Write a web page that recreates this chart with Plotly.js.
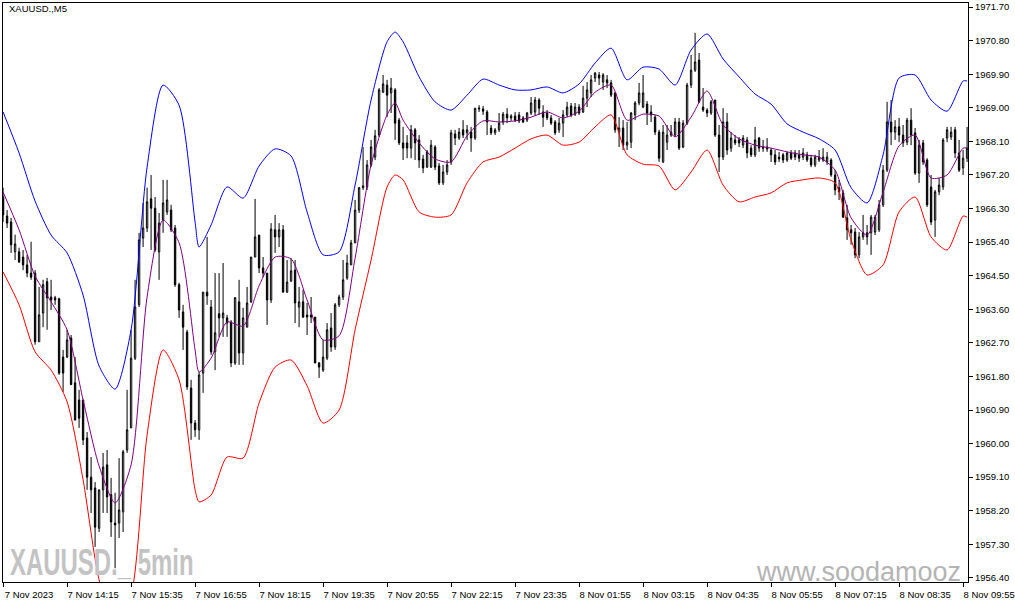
<!DOCTYPE html>
<html>
<head>
<meta charset="utf-8">
<script src="https://cdn.plot.ly/plotly-3.0.1.min.js"></script>
<style>
  html, body { margin: 0; padding: 0; background: #ffffff; }
  #chart { width: 1015px; height: 605px; }
</style>
</head>
<body>
<div id="chart"></div>
<script>
// XAUUSD M5 candles, 7 Nov 12:55 -> 8 Nov 10:00 (one entry per bar)
var open = [
  1966.61,1966.10,1965.94,1965.14,1965.14,1965.00,1964.79,1964.57,1964.57,1962.73,
  1963.50,1964.34,1963.93,1963.91,1963.88,1962.32,1962.32,1962.83,1961.63,1961.17,
  1961.17,1960.15,1959.10,1958.81,1957.73,1958.76,1959.43,1958.63,1957.87,1957.87,
  1958.17,1959.83,1960.42,1962.29,1963.72,1965.51,1965.78,1966.56,1966.31,1965.14,
  1965.99,1966.21,1966.26,1965.78,1964.26,1963.53,1962.99,1961.49,1960.55,1960.37,
  1961.89,1964.06,1963.66,1962.46,1963.48,1963.37,1963.37,1963.26,1962.16,1963.80,
  1962.43,1963.12,1963.80,1965.00,1965.59,1964.71,1964.57,1963.85,1965.73,1965.54,
  1965.73,1964.06,1964.36,1964.65,1963.66,1963.80,1963.45,1963.45,1963.39,1962.16,
  1961.97,1962.29,1963.10,1962.59,1963.72,1963.93,1964.44,1964.79,1965.38,1966.26,
  1966.86,1966.88,1967.47,1967.68,1968.27,1969.42,1969.61,1969.40,1969.48,1968.67,
  1968.06,1968.06,1967.92,1968.41,1968.14,1967.63,1967.41,1967.41,1967.95,1967.44,
  1966.99,1967.28,1967.55,1968.30,1968.19,1968.41,1968.33,1968.35,1968.19,1968.97,
  1968.97,1968.89,1968.46,1968.33,1968.41,1968.62,1968.83,1968.73,1968.78,1968.81,
  1968.73,1968.67,1968.86,1968.89,1969.21,1968.89,1968.86,1968.73,1968.62,1968.41,
  1968.59,1968.81,1969.05,1968.83,1969.02,1968.89,1969.26,1969.40,1969.80,1969.88,
  1969.69,1969.75,1969.67,1969.40,1968.35,1968.46,1968.00,1968.08,1968.81,1969.13,
  1969.02,1969.10,1968.89,1968.75,1968.35,1967.55,1968.08,1968.27,1968.27,1968.62,
  1967.95,1968.59,1969.61,1970.01,1970.28,1969.02,1968.94,1968.86,1969.21,1968.27,
  1967.68,1968.62,1967.92,1968.14,1968.14,1968.00,1968.14,1967.92,1967.74,1968.19,
  1967.95,1967.95,1967.87,1967.74,1967.68,1967.74,1967.60,1967.79,1967.79,1967.74,
  1967.68,1967.74,1967.65,1967.47,1967.60,1967.60,1967.55,1967.60,1967.20,1966.86,
  1966.72,1966.05,1965.73,1965.67,1965.06,1965.54,1965.65,1965.65,1965.67,1965.73,
  1966.40,1967.33,1968.62,1968.35,1968.49,1968.27,1968.08,1968.67,1968.33,1967.25,
  1968.06,1967.60,1966.88,1965.99,1966.75,1966.88,1968.19,1968.22,1968.41,1967.79,
  1967.39,1967.65
];
var high = [
  1966.86,1966.26,1966.05,1965.60,1965.25,1965.19,1965.06,1965.41,1964.65,1964.20,
  1964.39,1964.44,1964.39,1963.96,1963.91,1962.51,1963.05,1962.91,1962.32,1961.44,
  1961.17,1960.31,1959.64,1958.97,1958.76,1959.75,1959.83,1959.08,1958.68,1959.61,
  1959.83,1961.44,1963.05,1964.39,1965.65,1966.45,1966.86,1967.20,1966.61,1966.18,
  1967.07,1967.07,1966.40,1965.86,1964.31,1963.72,1963.05,1961.71,1960.63,1961.92,
  1964.06,1965.54,1963.85,1964.57,1964.57,1964.84,1963.45,1963.31,1963.93,1964.39,
  1963.64,1964.20,1965.00,1966.56,1965.59,1965.00,1964.57,1965.91,1966.13,1965.91,
  1965.86,1964.92,1964.97,1964.92,1964.20,1964.12,1963.77,1963.93,1963.39,1962.19,
  1962.78,1963.23,1963.50,1963.77,1963.99,1964.92,1965.06,1965.46,1966.53,1966.88,
  1967.95,1967.60,1968.14,1968.41,1969.53,1969.88,1969.75,1969.80,1969.53,1968.73,
  1968.49,1968.27,1968.54,1968.46,1968.27,1967.74,1967.87,1968.14,1968.00,1967.52,
  1967.47,1967.60,1968.41,1968.41,1968.46,1968.67,1968.54,1968.49,1968.99,1969.07,
  1969.05,1968.94,1968.54,1968.46,1968.86,1968.89,1968.99,1968.83,1968.89,1968.89,
  1968.78,1968.89,1969.29,1969.29,1969.26,1969.07,1968.94,1968.81,1968.67,1968.73,
  1968.94,1969.16,1969.13,1969.13,1969.10,1969.59,1969.69,1969.88,1969.96,1969.96,
  1969.93,1969.88,1969.75,1969.42,1968.75,1968.67,1968.62,1968.89,1969.18,1969.67,
  1969.88,1969.18,1969.07,1968.81,1968.41,1968.54,1968.54,1968.54,1968.73,1968.73,
  1968.67,1969.67,1970.42,1971.01,1970.47,1969.53,1968.99,1969.21,1969.21,1968.54,
  1968.99,1968.86,1968.35,1968.27,1968.22,1968.27,1968.22,1968.00,1968.49,1968.22,
  1968.14,1968.19,1967.92,1967.87,1967.82,1967.79,1967.82,1967.87,1967.87,1967.87,
  1967.92,1967.82,1967.74,1967.74,1967.87,1967.92,1967.82,1967.65,1967.33,1967.07,
  1966.80,1966.40,1965.86,1965.78,1965.67,1966.13,1965.86,1966.13,1966.13,1966.53,
  1967.47,1969.16,1969.21,1968.67,1968.73,1968.54,1968.73,1968.99,1968.46,1968.14,
  1968.14,1967.65,1967.20,1966.80,1967.12,1968.19,1968.49,1968.49,1968.49,1968.14,
  1967.87,1968.49
];
var low = [
  1965.94,1965.78,1965.11,1964.92,1964.84,1964.65,1964.46,1964.39,1962.65,1962.73,
  1963.12,1963.05,1963.58,1963.72,1961.84,1961.39,1962.29,1961.58,1960.63,1960.42,
  1959.96,1958.76,1958.14,1957.23,1957.63,1958.14,1958.14,1957.50,1956.66,1957.47,
  1957.63,1959.75,1960.42,1962.24,1963.66,1965.27,1965.67,1965.19,1965.14,1964.39,
  1965.65,1966.13,1965.67,1964.20,1963.37,1962.51,1961.44,1960.10,1960.18,1960.10,
  1961.36,1963.72,1962.38,1961.97,1962.86,1962.86,1962.86,1962.05,1962.11,1962.11,
  1962.11,1963.12,1963.77,1965.00,1964.57,1964.46,1963.18,1963.77,1965.11,1965.27,
  1964.06,1964.04,1964.33,1963.23,1963.12,1963.37,1962.91,1963.23,1962.16,1961.76,
  1961.92,1962.24,1962.46,1962.51,1963.66,1963.85,1964.39,1964.79,1965.38,1966.18,
  1966.80,1966.80,1967.41,1967.60,1968.22,1969.40,1968.75,1968.86,1968.14,1968.00,
  1967.60,1967.65,1967.65,1967.60,1967.39,1967.25,1967.39,1967.39,1967.33,1966.93,
  1966.93,1967.20,1967.47,1968.00,1968.14,1968.19,1968.14,1967.82,1968.14,1968.89,
  1968.81,1968.27,1968.27,1968.27,1968.35,1968.54,1968.59,1968.65,1968.62,1968.59,
  1968.59,1968.62,1968.81,1968.78,1968.81,1968.49,1968.67,1968.54,1968.27,1968.33,
  1968.22,1968.75,1968.75,1968.78,1968.81,1968.86,1969.02,1969.29,1969.69,1969.61,
  1969.48,1969.53,1969.29,1968.33,1967.95,1967.87,1967.87,1967.92,1968.67,1969.07,
  1968.99,1968.54,1968.62,1968.27,1967.55,1967.52,1967.87,1968.22,1968.22,1967.87,
  1967.92,1968.54,1969.53,1969.96,1969.13,1968.89,1968.75,1968.81,1968.22,1967.28,
  1967.60,1967.74,1967.82,1968.00,1967.95,1967.92,1967.65,1967.68,1967.68,1967.82,
  1967.82,1967.82,1967.55,1967.47,1967.55,1967.52,1967.55,1967.60,1967.60,1967.55,
  1967.60,1967.55,1967.41,1967.41,1967.55,1967.55,1967.47,1967.15,1966.66,1966.53,
  1966.05,1965.46,1965.33,1964.97,1964.97,1965.46,1965.33,1965.06,1965.59,1965.67,
  1966.34,1967.28,1968.00,1968.14,1968.08,1967.95,1968.00,1968.00,1967.20,1966.99,
  1967.47,1966.34,1965.86,1965.54,1966.66,1966.80,1968.08,1968.14,1967.65,1967.28,
  1967.20,1967.55
];
var close = [
  1966.13,1965.91,1965.33,1965.35,1964.87,1964.79,1964.57,1964.46,1962.73,1963.45,
  1964.26,1963.91,1963.85,1963.85,1961.89,1961.89,1962.78,1961.58,1960.63,1960.68,
  1960.10,1959.10,1958.76,1957.76,1958.76,1959.37,1958.57,1957.90,1957.82,1958.22,
  1959.78,1960.37,1962.29,1963.66,1965.46,1965.78,1966.48,1966.31,1965.19,1965.91,
  1966.45,1966.53,1965.73,1964.26,1963.58,1963.12,1961.52,1960.55,1960.37,1961.84,
  1964.06,1963.96,1962.46,1962.97,1963.37,1963.50,1963.23,1962.16,1963.91,1962.43,
  1963.37,1963.77,1965.00,1965.54,1964.71,1964.57,1963.85,1965.75,1965.54,1965.73,
  1964.06,1964.33,1964.63,1963.77,1963.80,1963.39,1963.39,1963.39,1962.16,1962.05,
  1962.32,1963.05,1962.59,1963.72,1963.93,1964.39,1964.84,1965.38,1966.26,1966.86,
  1966.91,1967.47,1967.95,1968.25,1969.48,1969.64,1969.34,1969.53,1968.59,1968.06,
  1967.92,1967.92,1968.41,1968.06,1967.60,1967.39,1967.82,1968.00,1967.41,1966.99,
  1967.28,1967.47,1968.33,1968.19,1968.35,1968.27,1968.41,1968.19,1968.99,1968.99,
  1968.91,1968.62,1968.33,1968.41,1968.59,1968.83,1968.73,1968.78,1968.67,1968.65,
  1968.62,1968.86,1969.13,1969.21,1968.99,1968.75,1968.73,1968.59,1968.33,1968.59,
  1968.81,1969.02,1968.81,1969.02,1968.86,1969.26,1969.48,1969.75,1969.93,1969.80,
  1969.88,1969.67,1969.34,1968.41,1968.46,1968.00,1968.08,1968.86,1969.13,1969.40,
  1969.40,1968.86,1968.81,1968.35,1967.65,1968.35,1968.27,1968.35,1968.62,1967.92,
  1968.59,1969.61,1970.01,1970.23,1969.16,1968.94,1968.86,1969.16,1968.27,1967.68,
  1968.62,1967.87,1968.19,1968.06,1968.06,1968.19,1967.79,1967.74,1968.14,1967.92,
  1967.92,1967.90,1967.74,1967.55,1967.63,1967.60,1967.79,1967.65,1967.68,1967.65,
  1967.79,1967.60,1967.47,1967.68,1967.68,1967.68,1967.68,1967.20,1966.80,1966.75,
  1966.07,1965.73,1965.65,1965.06,1965.54,1965.65,1965.54,1966.07,1966.07,1966.40,
  1967.33,1968.62,1968.35,1968.49,1968.27,1968.06,1968.67,1968.27,1967.25,1968.00,
  1967.55,1966.40,1965.94,1966.75,1966.93,1968.14,1968.41,1968.35,1967.79,1967.33,
  1967.65,1967.92
];

// Bollinger bands at these bar numbers
var bandIdx = [0,4,8,12,16,20,24,28,32,36,40,44,48,49,52,56,60,64,68,72,76,80,84,88,92,96,98,
  100,104,108,112,116,120,124,128,132,136,140,144,148,152,156,160,164,168,172,176,180,184,188,
  192,196,200,204,208,212,216,220,224,228,232,236,240,241];
var upperBand = [1968.89,1967.79,1966.50,1965.59,1965.11,1963.98,1962.08,1961.46,1963.05,1967.41,
  1969.61,1969.07,1965.94,1965.27,1965.86,1966.88,1966.58,1967.44,1967.90,1967.71,1966.21,1965.06,
  1965.14,1966.93,1969.21,1970.77,1971.03,1970.77,1969.83,1969.16,1968.94,1969.34,1969.77,1969.61,
  1969.48,1969.48,1969.56,1969.40,1969.64,1970.20,1970.60,1969.75,1970.09,1970.04,1969.61,1970.55,
  1970.98,1970.31,1969.83,1969.37,1969.10,1968.57,1968.35,1968.17,1967.87,1966.86,1966.45,1967.74,
  1969.80,1969.88,1969.21,1968.91,1969.72,1969.72];
var midBand = [1966.74,1965.73,1964.49,1963.80,1963.05,1961.17,1959.40,1958.41,1959.43,1963.93,
  1965.99,1965.38,1962.51,1961.92,1962.29,1963.26,1963.15,1964.23,1965.00,1964.95,1963.85,1962.78,
  1962.89,1964.97,1967.47,1968.81,1969.13,1968.67,1968.06,1967.63,1967.55,1968.25,1968.65,1968.62,
  1968.65,1968.75,1968.89,1968.73,1968.91,1969.42,1969.61,1968.67,1968.83,1968.78,1968.22,1968.75,
  1969.45,1968.54,1968.17,1968.00,1967.92,1967.82,1967.74,1967.68,1967.33,1966.05,1965.59,1966.74,
  1967.98,1968.27,1967.12,1967.20,1967.92,1967.92];
var lowerBand = [1964.60,1963.72,1962.46,1961.97,1961.12,1959.03,1956.35,1955.14,1955.94,1960.23,
  1962.51,1961.71,1958.76,1958.44,1958.62,1959.64,1959.61,1961.09,1962.05,1962.24,1961.55,1960.55,
  1960.90,1963.05,1964.92,1966.88,1967.20,1967.07,1966.21,1966.07,1966.13,1966.99,1967.55,1967.68,
  1967.92,1968.17,1968.27,1968.00,1968.08,1968.49,1968.81,1967.74,1967.49,1967.44,1966.80,1967.28,
  1967.87,1966.93,1966.48,1966.61,1966.72,1966.99,1967.07,1967.12,1966.99,1965.46,1964.52,1964.79,
  1966.21,1966.61,1965.54,1965.19,1966.10,1966.07];

// axis labels
var timeTickIdx = [0,16,32,48,64,80,96,112,128,144,160,176,192,208,224,240];
var timeTickText = ['7 Nov 2023','7 Nov 14:15','7 Nov 15:35','7 Nov 16:55','7 Nov 18:15',
  '7 Nov 19:35','7 Nov 20:55','7 Nov 22:15','7 Nov 23:35','8 Nov 01:55','8 Nov 03:15',
  '8 Nov 04:35','8 Nov 05:55','8 Nov 07:15','8 Nov 08:35','8 Nov 09:55'];
var priceTicks = [1956.40,1957.30,1958.20,1959.10,1960.00,1960.90,1961.80,1962.70,1963.60,
  1964.50,1965.40,1966.30,1967.20,1968.10,1969.00,1969.90,1970.80,1971.70];

var barIdx = open.map(function (v, i) { return i; });

var tickFont = { family: 'Liberation Sans, Arial, sans-serif', size: 9.5, color: '#000000' };

var candles = {
    type: 'candlestick',
    x: barIdx,
    open: open,
    high: high,
    low: low,
    close: close,
    whiskerwidth: 0,
    increasing: { line: { color: '#000000', width: 1 }, fillcolor: '#ffffff' },
    decreasing: { line: { color: '#000000', width: 1 }, fillcolor: '#000000' },
    hoverinfo: 'skip'
};

function bandLine(values, color) {
    return {
        type: 'scatter',
        mode: 'lines',
        x: bandIdx,
        y: values,
        line: { color: color, width: 1, shape: 'spline', smoothing: 0.7 },
        hoverinfo: 'skip'
    };
}

var graphdata = [candles, bandLine(upperBand, '#0000ff'), bandLine(midBand, '#800080'), bandLine(lowerBand, '#ff0000')];

var layout = {
    width: 1015,
    height: 605,
    margin: { l: 3, r: 47, t: 3, b: 23, pad: 0 },
    paper_bgcolor: '#ffffff',
    plot_bgcolor: '#ffffff',
    showlegend: false,
    boxgap: 0.5,
    xaxis: {
        range: [-0.02, 241.23],
        tickvals: timeTickIdx,
        ticktext: timeTickText,
        tickangle: 0,
        ticks: 'outside',
        ticklen: 4,
        tickcolor: '#000000',
        tickfont: tickFont,
        ticklabelshift: 26,
        ticklabeloverflow: 'allow',
        showline: true,
        linecolor: '#000000',
        linewidth: 1,
        mirror: true,
        showgrid: false,
        zeroline: false,
        rangeslider: { visible: false },
        fixedrange: true
    },
    yaxis: {
        side: 'right',
        range: [1956.29, 1971.81],
        tickvals: priceTicks,
        tickformat: '.2f',
        ticks: 'outside',
        ticklen: 4,
        tickcolor: '#000000',
        tickfont: tickFont,
        showline: true,
        linecolor: '#000000',
        linewidth: 1,
        mirror: true,
        showgrid: false,
        zeroline: false,
        fixedrange: true
    },
    annotations: [
        {
            xref: 'paper', yref: 'paper', x: 0.004, y: 0.990,
            xanchor: 'left', yanchor: 'middle', showarrow: false,
            text: 'XAUUSD.,M5', font: tickFont
        },
        // watermarks
        {
            xref: 'paper', yref: 'paper', x: 0.005, y: 0.0337,
            xanchor: 'left', yanchor: 'middle', showarrow: false,
            text: '<b>XAUUSD._ 5min</b>',
            font: { family: 'Liberation Sans, Arial, sans-serif', size: 36, color: '#c3c3c3' }
        },
        {
            xref: 'paper', yref: 'paper', x: 0.778, y: 0.018,
            xanchor: 'left', yanchor: 'middle', showarrow: false,
            text: 'www.soodamooz',
            font: { family: 'Liberation Sans, Arial, sans-serif', size: 27, color: '#b4b4b4' }
        }
    ]
};

Plotly.newPlot('chart', graphdata, layout, { displayModeBar: false, staticPlot: true }).then(function (gd) {
    // the original watermark font is a condensed face: squeeze it horizontally
    var texts = gd.querySelectorAll('.annotation-text');
    if (texts.length > 1) {
        var wm = texts[1];
        wm.style.transformBox = 'fill-box';
        wm.style.transformOrigin = 'left center';
        wm.style.transform = 'scaleX(0.665)';
    }
});
</script>
</body>
</html>
